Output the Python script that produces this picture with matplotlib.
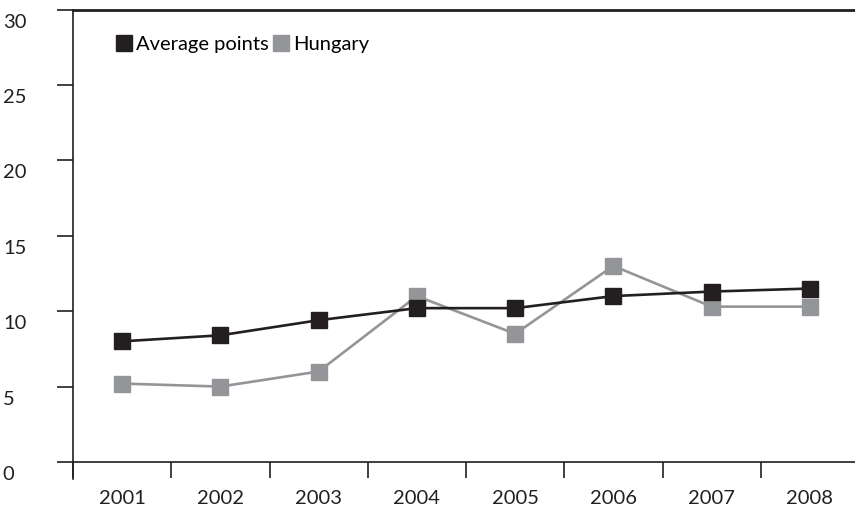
import matplotlib
matplotlib.use("Agg")
import matplotlib.pyplot as plt
from matplotlib.lines import Line2D
import matplotlib.transforms as mtransforms

plt.rcParams['font.family'] = ['Lato', 'DejaVu Sans']

years = ['2001', '2002', '2003', '2004', '2005', '2006', '2007', '2008']
average_points = [8.0, 8.4, 9.4, 10.2, 10.2, 11.0, 11.3, 11.5]
hungary = [5.2, 5.0, 6.0, 11.0, 8.5, 13.0, 10.3, 10.3]
y_ticks = [0, 5, 10, 15, 20, 25, 30]

black = '#231f20'
grey = '#939598'

fig = plt.figure(figsize=(8.55, 5.08), dpi=100)
ax = fig.add_axes([73 / 855, 46 / 508, 786 / 855, 452.5 / 508])

x = list(range(len(years)))
ax.plot(x, average_points, color=black, lw=1.9, marker='s', ms=11.5,
        mec=black, mfc=black, zorder=3)
ax.plot(x, hungary, color=grey, lw=1.9, marker='s', ms=11.5,
        mec=grey, mfc=grey, zorder=2)

ax.set_xlim(-0.5, len(years) - 0.5)
ax.set_ylim(0, 30)

# spines
ax.spines['right'].set_visible(False)
ax.spines['left'].set_linewidth(1.2)
ax.spines['bottom'].set_linewidth(1.2)
ax.spines['top'].set_linewidth(2.0)
for side in ['top', 'left', 'bottom']:
    ax.spines[side].set_color(black)
ax.spines['left'].set_bounds(-1.1, 30)

# y ticks, labels left aligned at figure edge
ax.set_yticks(y_ticks)
ax.set_yticklabels([str(v) for v in y_ticks])
ax.tick_params(axis='y', direction='out', length=11.5, width=1.2,
               color=black, pad=39, labelsize=14.5, labelcolor=black)
offset = mtransforms.ScaledTranslation(0, -3 / 72, fig.dpi_scale_trans)
for lab in ax.get_yticklabels():
    lab.set_horizontalalignment('left')
    lab.set_verticalalignment('top')
    lab.set_transform(lab.get_transform() + offset)

# x: ticks on category boundaries, labels at centres
ax.set_xticks([i - 0.5 for i in range(len(years))], minor=True)
ax.set_xticks(x)
ax.set_xticklabels(years)
ax.tick_params(axis='x', which='minor', direction='out', length=11.5,
               width=1.2, color=black)
ax.tick_params(axis='x', which='major', length=0, pad=20.5, labelsize=14.5,
               labelcolor=black)

handles = [
    Line2D([], [], marker='s', ls='none', ms=11, mfc=black, mec=black),
    Line2D([], [], marker='s', ls='none', ms=11, mfc=grey, mec=grey),
]
ax.legend(handles, ['Average points', 'Hungary'], loc='upper left',
          bbox_to_anchor=(0.047, 0.96), ncol=2, frameon=False,
          fontsize=14.5, handlelength=0.6, handletextpad=0.3,
          columnspacing=0.3, borderaxespad=0)

fig.savefig('out.png', dpi=100)
